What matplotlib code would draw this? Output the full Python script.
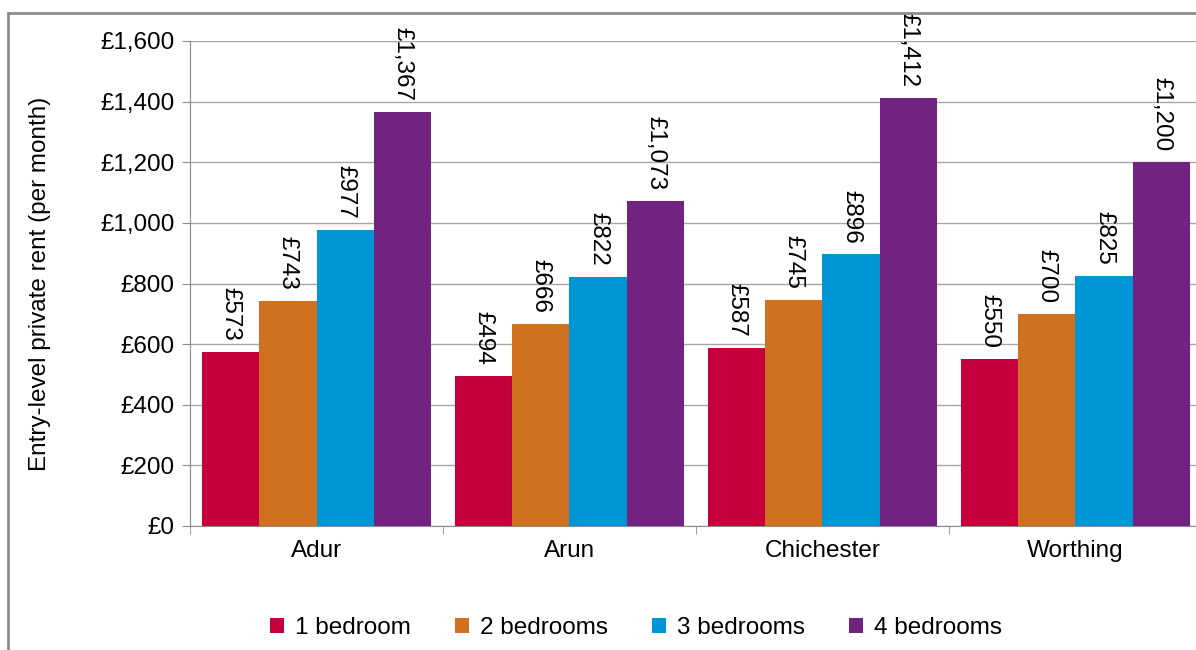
import numpy as np
import matplotlib
matplotlib.use('Agg')
from matplotlib import pyplot as plt
from matplotlib.patches import Rectangle
from matplotlib.ticker import FuncFormatter, FixedLocator

plt.rcParams['font.family'] = ['Liberation Sans', 'DejaVu Sans']

areas = ['Adur', 'Arun', 'Chichester', 'Worthing']
series = ['1 bedroom', '2 bedrooms', '3 bedrooms', '4 bedrooms']
rent_1bed = [573, 494, 587, 550]
rent_2bed = [743, 666, 745, 700]
rent_3bed = [977, 822, 896, 825]
rent_4bed = [1367, 1073, 1412, 1200]
colors = ['#C3003C', '#D0711F', '#0096D6', '#722382']

W, H = 1196, 650
FS = 17.5
fig = plt.figure(figsize=(W / 100, H / 100), dpi=100)

# outer chart border (cut off on right and bottom like the source)
fig.patches.append(Rectangle((8 / W, -0.1), 1.2, 1 - 13 / H + 0.1,
                             transform=fig.transFigure, fill=False,
                             edgecolor='#8c8c8c', linewidth=2.0))

ax = fig.add_axes([190 / W, (H - 526) / H, (1202 - 190) / W, (526 - 41) / H])

x = np.arange(len(areas))
bw = 0.227
all_vals = [rent_1bed, rent_2bed, rent_3bed, rent_4bed]
for i, vals in enumerate(all_vals):
    pos = x + (i - 1.5) * bw
    ax.bar(pos, vals, width=bw, color=colors[i], label=series[i], zorder=3)
    for p, v in zip(pos, vals):
        ax.annotate('£{:,}'.format(v), (p, v), xytext=(0, 8), textcoords='offset points',
                    rotation=-90, ha='center', va='bottom', fontsize=FS, zorder=4,
                    annotation_clip=False)

ax.set_xlim(-0.5, len(areas) - 0.5)
ax.set_ylim(0, 1600)
ax.yaxis.set_major_locator(FixedLocator(np.arange(0, 1601, 200)))
ax.yaxis.set_major_formatter(FuncFormatter(lambda v, _: '£{:,.0f}'.format(v)))
ax.grid(axis='y', color='#a6a6a6', linewidth=1.0, zorder=0)

ax.set_xticks(x)
ax.set_xticklabels(areas)
ax.set_xticks(np.arange(-0.5, len(areas) + 0.5, 1), minor=True)
ax.tick_params(axis='x', which='major', length=0, pad=10, labelsize=FS)
ax.tick_params(axis='x', which='minor', length=6, color='#8c8c8c', direction='out')
ax.tick_params(axis='y', length=6, color='#8c8c8c', direction='out', pad=5, labelsize=FS)

for s in ['top', 'right']:
    ax.spines[s].set_visible(False)
for s in ['left', 'bottom']:
    ax.spines[s].set_color('#8c8c8c')

ax.set_ylabel('Entry-level private rent (per month)', fontsize=FS)
ax.yaxis.set_label_coords((51 - 190) / (1202 - 190), 0.5)

fig.legend(loc='center', bbox_to_anchor=(636 / W, 1 - 628 / H), ncol=4, frameon=False,
           fontsize=FS, handlelength=0.58, handleheight=0.58, handletextpad=0.45,
           columnspacing=1.8)

fig.savefig('out.png', dpi=100)
